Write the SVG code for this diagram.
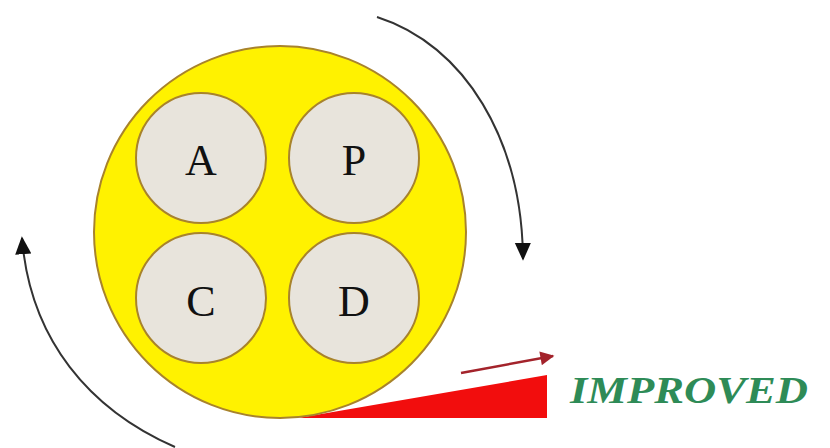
<svg xmlns="http://www.w3.org/2000/svg" width="830" height="448" viewBox="0 0 830 448">
<style>
.inner{fill:#e8e4dc;stroke:#a8832c;stroke-width:2}
.lbl{font-family:"Liberation Serif",serif;font-size:44px;fill:#111;text-anchor:middle}
.cyc{fill:none;stroke:#333;stroke-width:2}
</style>
<defs>
<marker id="ahBig" viewBox="0 0 10 10" refX="9" refY="5" markerWidth="18" markerHeight="18" orient="auto" markerUnits="userSpaceOnUse">
<path d="M0,0.5 L10,5 L0,9.5 z" fill="#111"/>
</marker>
<marker id="ahRed" viewBox="0 0 10 10" refX="9" refY="5" markerWidth="18" markerHeight="14" orient="auto" markerUnits="userSpaceOnUse">
<path d="M0,0 L10,5 L0,10 z" fill="#a3232b"/>
</marker>
</defs>
<rect width="830" height="448" fill="#ffffff"/>
<g id="wedge">
<polygon points="298,418 547,375 547,418" fill="#f20d0d"/>
</g>
<g id="wheel">
<circle cx="280" cy="232" r="186" fill="#fff200" stroke="#a8832c" stroke-width="2"/>
</g>
<g id="node-A"><circle class="inner" cx="201" cy="158" r="65"/><text class="lbl" x="201" y="175">A</text></g>
<g id="node-P"><circle class="inner" cx="354" cy="158" r="65"/><text class="lbl" x="354" y="175">P</text></g>
<g id="node-C"><circle class="inner" cx="201" cy="298" r="65"/><text class="lbl" x="201" y="316">C</text></g>
<g id="node-D"><circle class="inner" cx="354" cy="298" r="65"/><text class="lbl" x="354" y="316">D</text></g>
<g id="connectors">
<path class="cyc" d="M377,17 C465,45 522,140 523,259" marker-end="url(#ahBig)"/>
<path class="cyc" d="M175,447 C90,410 30,340 22,238" marker-end="url(#ahBig)"/>
<path d="M461,373 L553,356" stroke="#a3232b" stroke-width="2.5" fill="none" marker-end="url(#ahRed)"/>
</g>
<g id="label">
<text x="570" y="403" font-family="'Liberation Serif',serif" font-size="38" font-weight="bold" font-style="italic" fill="#2e8b57" textLength="238" lengthAdjust="spacingAndGlyphs">IMPROVED</text>
</g>
</svg>
